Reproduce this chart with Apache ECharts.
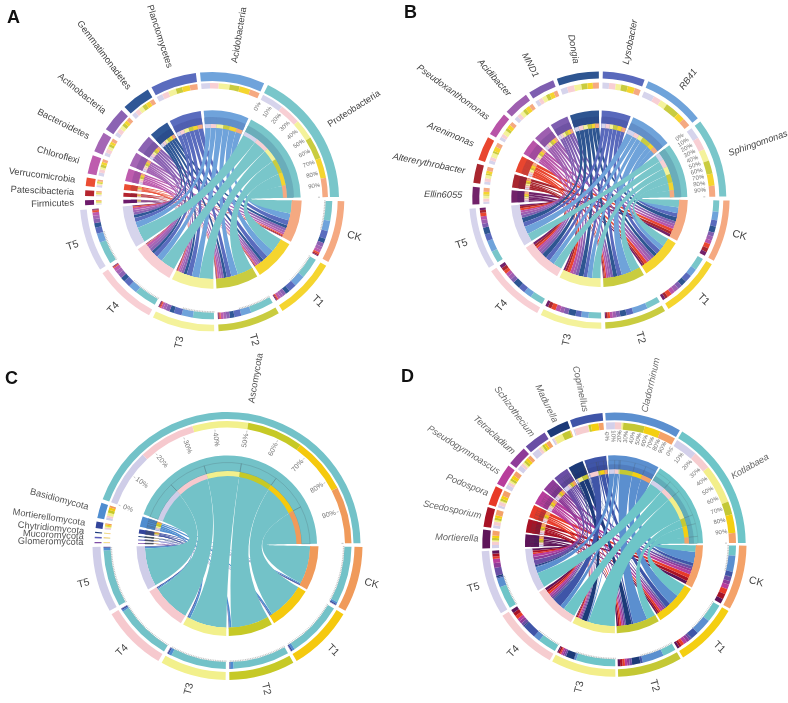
<!DOCTYPE html>
<html><head><meta charset="utf-8">
<style>html,body{margin:0;padding:0;background:#fff}#c{width:788px;height:703px}</style>
<script src="https://cdn.jsdelivr.net/npm/echarts@6/dist/echarts.min.js"></script>
</head><body><div id="c"></div>
<script>
const treatments = ['CK','T1','T2','T3','T4','T5'];
const treatmentColorsAB = ['#F5A981','#F5D52E','#C9CC3F','#F4F29B','#F8CFD4','#D6D4EC'];
const treatmentColorsC = ['#F09A5A','#F5C90E','#C6C926','#F2F08C','#F6C9CE','#CFCDE8'];
const treatmentColorsD = ['#F4A269','#F4CF12','#C4C834','#F3EE8A','#F6CDD0','#D3D0EA'];
const percentTicks = ['0%','10%','20%','30%','40%','50%','60%','70%','80%','90%'];

const taxaA = ['Proteobacteria','Acidobacteria','Planctomycetes','Gemmatimonadetes','Actinobacteria','Bacteroidetes','Chloroflexi','Verrucomicrobia','Patescibacteria','Firmicutes'];
const colorsA = ['#79C6CA','#6FA3DB','#5A6CBE','#2F5796','#8B63B3','#A566B5','#BE5CAE','#EB4D33','#B5242E','#6E1B6B'];
const valuesA = [
  [35,37,41,37,39,40],[18,20,18,20,16,16],[14,14,12,14,12,11],[8,8,8,8,8,8],[7,6,6,7,8,7],
  [6,5,5,5,7,6],[5,5,5,4,6,6],[3,2,2,2,2,3],[2.5,1.5,1.5,1.5,1,1.5],[1.5,1.5,1.5,1.5,1,1.5]];

const taxaB = ['Sphingomonas','RB41','Lysobacter','Dongia','MND1','Acidibacter','Pseudoxanthomonas','Arenimonas','Altererythrobacter','Ellin6055'];
const colorsB = ['#79C6CA','#6FA3DA','#5969BC','#2E5591','#7E5EB0','#9E5FB0','#B854A8','#E9462F','#A9262F','#72226A'];
const valuesB = [
  [20,22,24,22,23,21],[15,14,26,13,14,20],[11,13,12,10,12,12],[11,10,11,13,13,12],[7,8,7,8,7,7],
  [7,8,6,7,7,7],[7,7,5,8,6,6],[8,8,4,8,6,6],[7,5,3,6,6,5],[7,5,2,5,6,4]];

const taxaC = ['Ascomycota','Basidiomycota','Mortierellomycota','Chytridiomycota','Mucoromycota','Glomeromycota'];
const colorsC = ['#73C2C8','#4F8DD0','#33459B','#1B3A7A','#5A5CBB','#7F4EA6'];
const valuesC = [
  [94,93,93,92,94,94],[3,4,5,5,3,4],[2,2,1,2,2,1],[.3,.3,.3,.3,.3,.3],[.4,.4,.4,.4,.4,.4],[.3,.3,.3,.3,.3,.3]];

const taxaD = ['Kotlabaea','Cladorrhinum','Coprinellus','Madurella','Schizothecium','Tetracladium','Pseudogymnoascus','Podospora','Scedosporium','Mortierella'];
const colorsD = ['#6EC5C8','#5B8FCF','#3F55A8','#1C3A78','#6A4EA5','#8F3C99','#B83D9C','#E83A28','#A81225','#5E1459'];
const valuesD = [
  [17,31,22,66,31,38],[27,27,36,3,11,15],[8,13,4,1,23,2],[1,1,14,14,2,3],[7,4,4,3,5,13],
  [6,5,4,3,5,8],[8,6,4,3,5,7],[9,5,4,2,6,4],[9,4,4,3,6,5],[8,4,4,2,6,5]];

const panels = [
 {letter:'A',lx:7,ly:9,c:[212,199],taxa:taxaA,colors:colorsA,tc:treatmentColorsAB,values:valuesA,pad:1.9,italic:false,labelColor:'#444',
  taxaRing:[118,127],taxaTrack:[110.5,116],treatRing:[125.7,132.3],treatTrack:[113.7,120.3],treatBlock:[80,89.7],taxaBlock:[75,88.7],thin:[71,75],
  gaugeR:108,gaugeTaxa:[0],pctSize:6,pctDist:3,treatTicks:true,shade:[75,82],border:'rgba(255,255,255,.35)',labelR:11,tR:144},
 {letter:'B',lx:404,ly:4,c:[599.3,198.5],taxa:taxaB,colors:colorsB,tc:treatmentColorsAB,values:valuesB,pad:1.8,italic:true,labelColor:'#444',
  taxaRing:[120,127],taxaTrack:[110,116],treatRing:[124,130.3],treatTrack:[114,120],treatBlock:[80,88.5],taxaBlock:[75,88],thin:[70.5,75],
  gaugeR:106,gaugeTaxa:[0],pctSize:6,pctDist:3,treatTicks:false,shade:[75,82],border:'rgba(255,255,255,.35)',labelR:10,tR:142},
 {letter:'C',lx:5,ly:370,c:[227.5,545],taxa:taxaC,colors:colorsC,tc:treatmentColorsC,values:valuesC,pad:1.6,italic:false,labelColor:'#555',
  taxaRing:[126,133],taxaTrack:[117.5,124],treatRing:[127,135],treatTrack:[117,124],treatBlock:[82.7,91],taxaBlock:[74,89.5],thin:[69,74],
  gaugeR:116,gaugeTaxa:[0],pctSize:7,pctDist:8,treatTicks:true,arc:[74,82.5],arcColor:'rgba(70,80,90,.4)',border:'rgba(80,80,80,.5)',labelR:11,tR:146},
 {letter:'D',lx:401,ly:368,c:[614,544.3],taxa:taxaD,colors:colorsD,tc:treatmentColorsD,values:valuesD,pad:1.2,italic:true,labelColor:'#666',
  taxaRing:[124,131.7],taxaTrack:[115,122],treatRing:[125,132.5],treatTrack:[115,122],treatBlock:[82,89],taxaBlock:[75,89],thin:[70.5,75],
  gaugeR:113,gaugeTaxa:[0,1],pctSize:6,pctDist:3,treatTicks:true,arc:[75,84],arcColor:'rgba(70,80,90,.25)',shade:[75,80],border:'rgba(255,255,255,.35)',labelR:4,tR:144}
];

const CLEAR = 'rgba(0,0,0,0)';
const sum = a => a.reduce((x,y)=>x+y,0);
const hideLabel = {show:false};

function geometry(p){
  const rowTotals = p.values.map(sum);
  const colTotals = treatments.map((_,j)=>sum(p.values.map(r=>r[j])));
  const E = sum(rowTotals);
  const n = p.taxa.length + treatments.length;
  const k = (360 - n*p.pad)/(2*E);
  return {rowTotals,colTotals,E,n,k,gap:p.pad/k};
}

function ring(p,g,treatFn,taxonFn){
  const out=[{value:g.gap/2,itemStyle:{color:CLEAR},label:hideLabel}];
  treatments.forEach((t,j)=>{ treatFn(j).forEach(s=>out.push(s)); out.push({value:g.gap,itemStyle:{color:CLEAR},label:hideLabel}); });
  for(let i=p.taxa.length-1;i>=0;i--){
    taxonFn(i).forEach(s=>out.push(s));
    out.push({value:i===0?g.gap/2:g.gap,itemStyle:{color:CLEAR},label:hideLabel});
  }
  return out;
}
const blank = v => [{value:v,itemStyle:{color:CLEAR},label:hideLabel}];

function pie(p,radius,data,z,extra){
  return Object.assign({type:'pie',center:p.c,radius,startAngle:0,clockwise:true,silent:true,animation:false,
    avoidLabelOverlap:false,minAngle:0,minShowLabelAngle:0,percentPrecision:4,label:{show:false},labelLine:{show:false},labelLayout:{hideOverlap:false},emphasis:{disabled:true},
    itemStyle:{borderWidth:0},z,data},extra||{});
}

function buildPanel(p){
  const g = geometry(p), s=[];
  const nodes = p.taxa.map((t,i)=>({name:t,itemStyle:{color:p.colors[i]}}))
    .concat(treatments.map((t,j)=>({name:t,itemStyle:{color:p.tc[j]}})).reverse());
  const links=[];
  for(let i=p.taxa.length-1;i>=0;i--) treatments.forEach((t,j)=>{ links.push({source:p.taxa[i],target:t,value:p.values[i][j]}); });
  s.push({type:'chord',center:p.c,radius:[p.treatBlock[0],p.treatBlock[0]+1],startAngle:p.pad/2,clockwise:false,padAngle:p.pad,minAngle:0,
    animation:false,silent:true,data:nodes,links,label:{show:false},itemStyle:{borderRadius:0,borderWidth:0},
    lineStyle:{color:'source',opacity:1,borderColor:p.border,borderWidth:.5},emphasis:{disabled:true},z:2});

  const treatSolid = j=>[{name:treatments[j],value:g.colTotals[j],itemStyle:{color:p.tc[j]}}];
  const treatBlank = j=>blank(g.colTotals[j]);
  const taxSolid = i=>[{name:p.taxa[i],value:g.rowTotals[i],itemStyle:{color:p.colors[i]}}];
  const taxBlank = i=>blank(g.rowTotals[i]);
  const taxSplit = (i,col)=>treatments.map((t,j)=>5-j).map(j=>({value:p.values[i][j],itemStyle:col?col:{color:p.tc[j]}}));
  const treatSplit = j=>p.taxa.map((t,i)=>({value:p.values[i][j],itemStyle:{color:p.colors[i]}}));

  const tl={show:true,position:'outside',rotate:'radial',distanceToLabelLine:0,fontSize:9.3,fontFamily:'Liberation Sans',color:p.labelColor,fontStyle:p.italic?'italic':'normal',formatter:'{b}'};
  s.push(pie(p,p.taxaRing,ring(p,g,treatBlank,taxSolid),4,{label:tl,labelLine:{show:false,length:p.labelR,length2:0}}));
  s.push(pie(p,p.taxaTrack,ring(p,g,treatBlank,i=>taxSplit(i)),4));
  s.push(pie(p,p.taxaBlock,ring(p,g,treatBlank,taxSolid),4));
  if(p.shade) s.push(pie(p,p.shade,ring(p,g,treatBlank,i=>taxSplit(i,{color:'rgba(20,20,90,.14)'})),5));
  if(p.arc) s.push(pie(p,p.arc,ring(p,g,treatBlank,i=>taxSplit(i,{color:CLEAR,borderColor:p.arcColor,borderWidth:.5})),5));
  s.push(pie(p,p.thin,ring(p,g,treatBlank,i=>taxSplit(i)),6));
  s.push(pie(p,p.treatRing,ring(p,g,treatSolid,taxBlank),4));
  s.push(pie(p,p.treatTrack,ring(p,g,treatSplit,taxBlank),4));
  s.push(pie(p,p.treatBlock,ring(p,g,treatSolid,taxBlank),4));
  s.push(pie(p,[p.tR-1,p.tR+1],ring(p,g,j=>[{name:treatments[j],value:g.colTotals[j],itemStyle:{color:CLEAR}}],taxBlank),6,
    {label:{show:true,position:'inside',rotate:'radial',fontSize:10.5,fontFamily:'Liberation Sans',color:'#444',formatter:'{b}'}}));

  const treatStart=[]; let a=p.pad/2;
  treatments.forEach((t,j)=>{treatStart[j]=a; a+=g.colTotals[j]*g.k+p.pad;});
  const taxStart=[];
  for(let i=p.taxa.length-1;i>=0;i--){taxStart[i]=a; a+=g.rowTotals[i]*g.k+p.pad;}

  const gaugeBase={type:'gauge',center:p.c,silent:true,animation:false,axisLine:{show:false,lineStyle:{width:0}},pointer:{show:false},progress:{show:false},
    anchor:{show:false},title:{show:false},detail:{show:false},data:[{value:0}],z:7};
  p.gaugeTaxa.forEach(i=>{
    const st=taxStart[i], en=st+g.rowTotals[i]*g.k;
    s.push(Object.assign({},gaugeBase,{radius:p.gaugeR,startAngle:360-st,endAngle:360-en,min:0,max:100,splitNumber:10,
      axisTick:{show:false},splitLine:{show:true,distance:0,length:2,lineStyle:{color:'#888',width:.5}},
      axisLabel:{show:true,distance:p.pctDist,rotate:'radial',fontSize:p.pctSize,color:'#777',fontFamily:'Liberation Sans',
        formatter:v=>percentTicks[Math.round(v/10)]||''}}));
  });
  if(p.treatTicks) treatments.forEach((t,j)=>{
    const sp=(p.values[0][j]+p.values[1][j]);
    const st=treatStart[j], en=st+sp*g.k;
    s.push(Object.assign({},gaugeBase,{radius:p.treatTrack[0],startAngle:360-st,endAngle:360-en,min:0,max:100,splitNumber:Math.max(2,Math.round(sp/3)),
      axisTick:{show:false},axisLabel:{show:false},splitLine:{show:true,distance:0,length:1.6,lineStyle:{color:'#8a8a8a',width:.5}}}));
  });
  return s;
}

const chart = echarts.init(document.getElementById('c'),null,{renderer:'canvas'});
chart.setOption({
  backgroundColor:'#fff',animation:false,
  title:panels.map(p=>({text:p.letter,left:p.lx,top:p.ly,padding:0,textStyle:{fontSize:18,fontWeight:'bold',color:'#111',fontFamily:'Liberation Sans'}})),
  series:panels.flatMap(buildPanel)
});
</script></body></html>
